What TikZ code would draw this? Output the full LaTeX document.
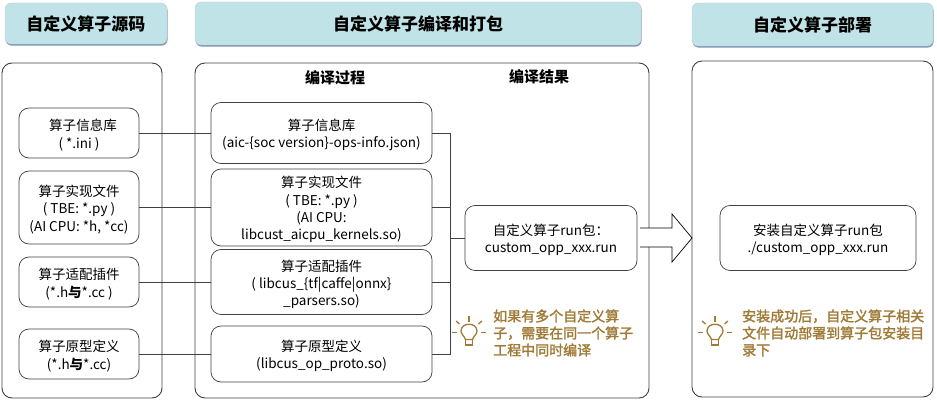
\documentclass[tikz,border=0pt]{standalone}
\usepackage{fontspec}
\setmainfont{Noto Sans CJK SC}
\newfontfamily\notefont[FakeBold=2]{Noto Sans CJK SC}
\usepackage{tikz}
\usetikzlibrary{shadows}
\definecolor{headfill}{HTML}{C0E3E7}
\definecolor{headshade}{HTML}{6F8FAF}
\definecolor{noteink}{HTML}{A07B38}
\definecolor{lineink}{HTML}{404040}
\newcommand{\topgap}{\rule{0pt}{15.5pt}}
\begin{document}
\begin{tikzpicture}[x=1pt,y=-1pt]
\tikzstyle{header}=[rounded corners=6pt,fill=headfill,draw=gray!40,line width=0.4pt,font=\fontsize{17}{20}\selectfont\bfseries,drop shadow={shadow xshift=0.6pt,shadow yshift=-1.6pt,fill=headshade,opacity=0.9}]
\tikzstyle{panel}=[rounded corners=10pt,draw=lineink,line width=0.9pt]
\tikzstyle{box}=[rounded corners=10pt,draw=lineink,line width=0.7pt,fill=white,align=center,inner sep=0pt,font=\fontsize{13.5}{17.2}\selectfont]
\tikzstyle{wire}=[draw=lineink,line width=0.6pt]
\tikzstyle{title}=[font=\fontsize{15}{18}\selectfont\bfseries,inner sep=0pt]
\tikzstyle{note}=[font=\fontsize{14}{17}\notefont,text=noteink,align=left,anchor=west,inner sep=0pt]
\useasboundingbox (0,0) rectangle (937,401);
% panels
\node[panel,minimum width=160pt,minimum height=335pt] (srcpanel) at (82,230.5) {};
\node[panel,minimum width=454pt,minimum height=335pt] (buildpanel) at (422,230.5) {};
\node[panel,minimum width=241pt,minimum height=336pt] (deploypanel) at (812.5,229) {};
% headers
\node[header,minimum width=162pt,minimum height=41pt] (srchead) at (86,23.5) {自定义算子源码};
\node[header,minimum width=446pt,minimum height=43pt] (buildhead) at (418,23.5) {自定义算子编译和打包};
\node[header,minimum width=241pt,minimum height=43pt] (deployhead) at (812.5,24.5) {自定义算子部署};
\node[title] (proctitle) at (335,78) {编译过程};
\node[title] (restitle) at (539,77) {编译结果};
% source boxes
\node[box,minimum width=120pt,minimum height=50pt] (src1) at (79,133) {\topgap\hspace*{8pt}算子信息库\\( *.ini )};
\node[box,minimum width=120pt,minimum height=73pt] (src2) at (79,207.5) {\topgap 算子实现文件\\( TBE: *.py )\\(AI CPU: *h, *cc)};
\node[box,minimum width=120pt,minimum height=50pt] (src3) at (79,282) {\topgap 算子适配插件\\(*.h\textbf{与}*.cc )};
\node[box,minimum width=120pt,minimum height=50pt] (src4) at (79,354) {\topgap 算子原型定义\\(*.h\textbf{与}*.cc)};
% library boxes
\node[box,minimum width=221pt,minimum height=61pt] (lib1) at (321.5,133) {\topgap 算子信息库\\(aic-\{soc version\}-ops-info.json)};
\node[box,minimum width=221pt,minimum height=77pt] (lib2) at (321.5,207.5) {\topgap 算子实现文件\\( TBE: *.py )\\(AI CPU:\\libcust\_aicpu\_kernels.so)};
\node[box,minimum width=221pt,minimum height=65pt] (lib3) at (321.5,282) {\topgap 算子适配插件\\( libcus\_\{tf|caffe|onnx\}\\\_parsers.so)};
\node[box,minimum width=221pt,minimum height=56pt] (lib4) at (321.5,354) {\topgap 算子原型定义\\(libcus\_op\_proto.so)};
\node[box,minimum width=172pt,minimum height=65pt] (run) at (551,238) {\topgap 自定义算子run包：\\custom\_opp\_xxx.run};
\node[box,minimum width=196pt,minimum height=65pt] (install) at (818,238) {\topgap 安装自定义算子run包\\./custom\_opp\_xxx.run};
\coordinate (bus) at (450,238);
% connectors
\foreach \n in {1,2,3,4}{
	\draw[wire] (src\n) -- (lib\n);
	\draw[wire] (lib\n) -| (bus);
}
\draw[wire] (run) -- (bus);
% arrow
\fill[white] (640,228) -- (672,228) -- (672,214) -- (692,238) -- (672,262) -- (672,247) -- (640,247) -- cycle;
\draw[draw=black,line width=0.7pt] (640,228) -- (672,228) -- (672,214) -- (692,238) -- (672,262) -- (672,247) -- (640,247);
% notes
\node[note] (note1) at (493,333) {如果有多个自定义算\\子，需要在同一个算子\\工程中同时编译};
\node[note] (note2) at (742,333) {安装成功后，自定义算子相关\\文件自动部署到算子包安装目\\录下};
\foreach \name/\point in {
	bulb1/{469,332.5},
	bulb2/{715,332.5}}
{
	\begin{scope}[shift={(\point)},draw=noteink,line width=1.3pt]
	\coordinate (\name) at (0,0);
	\draw (-3.6,7) .. controls (-4,4) and (-8,2) .. (-8,-1.5) .. controls (-8,-10.5) and (8,-10.5) .. (8,-1.5) .. controls (8,2) and (4,4) .. (3.6,7) -- cycle;
	\draw (-3.6,7) -- (-3.6,12.5) -- (3.6,12.5) -- (3.6,7);
	\draw (-17,0) -- (-12,0);
	\draw (12,0) -- (17,0);
	\draw (0,-16.5) -- (0,-11);
	\draw (-13,-11.5) -- (-9.5,-8.5);
	\draw (13,-11.5) -- (9.5,-8.5);
	\end{scope}
}
\end{tikzpicture}
\end{document}
